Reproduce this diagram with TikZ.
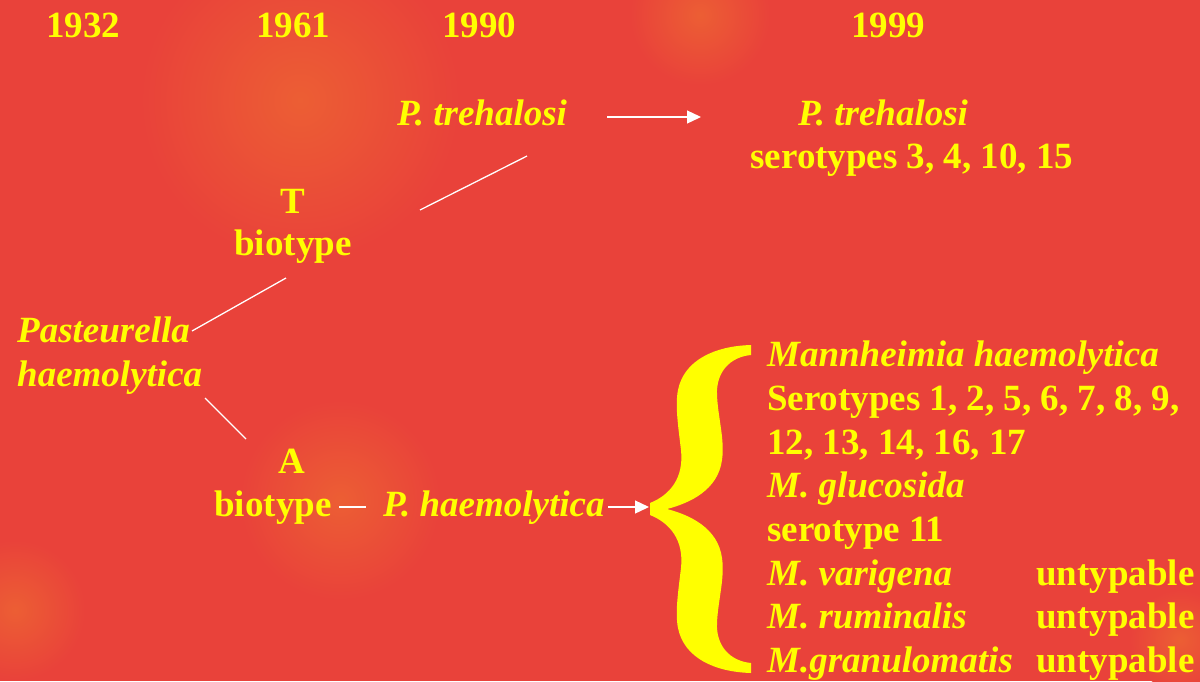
\documentclass[tikz,border=0pt]{standalone}
\usepackage{fontspec}
\setmainfont{Liberation Serif}
\usetikzlibrary{arrows.meta}
\definecolor{bgred}{HTML}{E9423A}
\definecolor{bgorange}{HTML}{EC5E34}
\definecolor{txtyellow}{HTML}{FFFF00}
\tikzset{
  lbl/.style={text=txtyellow, font=\fontsize{37}{44}\selectfont\bfseries, inner sep=0pt, anchor=base},
  lbll/.style={lbl, anchor=base west},
  it/.style={font=\fontsize{37}{44}\selectfont\bfseries\itshape},
  link/.style={draw=white, line width=1.3pt},
  arr/.style={link, -{Triangle[length=14pt,width=13pt]}},
  blob/.style={inner color=bgorange, outer color=bgred}
}
\begin{document}
\begin{tikzpicture}[x=1pt,y=-1pt]
\fill[bgred] (0,0) rectangle (1200,681);
\useasboundingbox (0,0) rectangle (1200,681);
% soft background blotches
\shade[blob] (300,100) circle[radius=160];
\shade[blob] (700,15) circle[radius=70];
\shade[blob] (340,500) circle[radius=100];
\shade[blob] (15,610) circle[radius=70];
\shade[blob] (1180,640) circle[radius=50];
% years
\node[lbl] (y1932) at (83,37) {1932};
\node[lbl] (y1961) at (293,37) {1961};
\node[lbl] (y1990) at (479,37) {1990};
\node[lbl] (y1999) at (888,37) {1999};
% top branch
\node[lbl,it] (ptre1) at (482,125) {P. trehalosi};
\node[lbl,it] (ptre2) at (883,125) {P. trehalosi};
\node[lbl] (sero1) at (912,168) {serotypes 3, 4, 10, 15};
\node[lbl] (tT) at (293,213) {T};
\node[lbl] (tbio) at (293,255) {biotype};
% root
\node[lbll,it] (past) at (17,342) {Pasteurella};
\node[lbll,it] (haem) at (17,386) {haemolytica};
% lower branch
\node[lbl] (aA) at (292,473) {A};
\node[lbl] (abio) at (273,516) {biotype};
\node[lbll,it] (phaem) at (383,516) {P. haemolytica};
% list
\node[lbll,it] (m1) at (767,366) {Mannheimia haemolytica};
\node[lbll] (m2) at (767,410) {Serotypes 1, 2, 5, 6, 7, 8, 9,};
\node[lbll] (m3) at (767,454) {12, 13, 14, 16, 17};
\node[lbll,it] (m4) at (767,497) {M. glucosida};
\node[lbll] (m5) at (767,541) {serotype 11};
\node[lbll,it] (m6) at (767,585) {M. varigena};
\node[lbll,it] (m7) at (767,628) {M. ruminalis};
\node[lbll,it] (m8) at (767,672) {M.granulomatis};
\node[lbll] (u6) at (1036,585) {untypable};
\node[lbll] (u7) at (1036,628) {untypable};
\node[lbll] (u8) at (1036,672) {untypable};
% connector end points
\coordinate (c1a) at (420,210);
\coordinate (c1b) at (527,156);
\coordinate (c2a) at (192,331);
\coordinate (c2b) at (286,278);
\coordinate (c3a) at (205,398);
\coordinate (c3b) at (246,439);
\coordinate (c4a) at (339,507);
\coordinate (c4b) at (366,507);
\coordinate (a1a) at (607,117);
\coordinate (a1b) at (701,117);
\coordinate (a2a) at (608,507);
\coordinate (a2b) at (649,507);
\draw[link] (c1a) -- (c1b);
\draw[link] (c2a) -- (c2b);
\draw[link] (c3a) -- (c3b);
\draw[link] (c4a) -- (c4b);
\draw[arr] (a1a) -- (a1b);
\draw[arr] (a2a) -- (a2b);
% big brace
\fill[txtyellow] (751,345) -- (751,355)
  .. controls (730,357) and (716,372) .. (717,395)
  .. controls (718,418) and (725,440) .. (722,460)
  .. controls (718,490) and (690,503) .. (667,509)
  .. controls (690,515) and (718,528) .. (722,558)
  .. controls (725,578) and (718,600) .. (717,623)
  .. controls (716,646) and (730,661) .. (751,663)
  -- (751,673)
  .. controls (715,672) and (684,658) .. (678,628)
  .. controls (675,613) and (678,593) .. (681,568)
  .. controls (684,540) and (670,523) .. (650,515)
  -- (650,503)
  .. controls (670,495) and (684,478) .. (681,450)
  .. controls (678,425) and (675,405) .. (678,390)
  .. controls (684,360) and (715,346) .. (751,345) -- cycle;
\end{tikzpicture}
\end{document}
